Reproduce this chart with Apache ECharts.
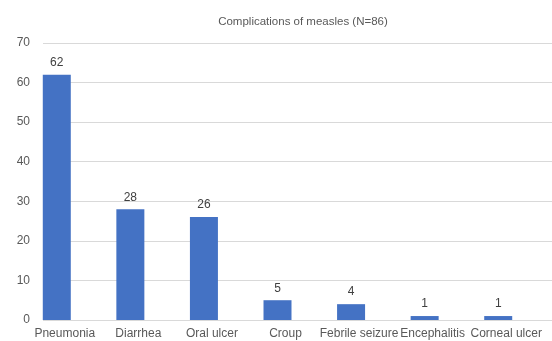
<!DOCTYPE html>
<html>
<head>
    <meta charset="utf-8" />
    <title>Complications of measles</title>
    <script src="https://cdn.jsdelivr.net/npm/echarts@6/dist/echarts.min.js"></script>
    <style>
        html, body { margin: 0; padding: 0; background: #fff; }
        #chart { width: 552px; height: 341px; }
    </style>
</head>
<body>
<div id="chart"></div>
<script>
    var categories = ['Pneumonia', 'Diarrhea', 'Oral ulcer', 'Croup', 'Febrile seizure', 'Encephalitis', 'Corneal ulcer'];
    var counts = [62, 28, 26, 5, 4, 1, 1];
    var yTicks = [0, 10, 20, 30, 40, 50, 60, 70];

    var font = "'Liberation Sans Narrow', 'Liberation Sans', Arial, sans-serif";
    var chart = echarts.init(document.getElementById('chart'));

    var option = {
        animation: false,
        title: {
            text: 'Complications of measles (N=86)',
            left: 298,
            top: 11,
            textAlign: 'center',
            textStyle: { fontFamily: font, fontSize: 11.5, fontWeight: 'normal', color: '#595959' }
        },
        grid: [
            // gridlines + y labels
            { left: 43, right: 0, top: 43, bottom: 21 },
            // bars
            { left: 20, right: 17, top: 43, bottom: 21 }
        ],
        xAxis: [
            { gridIndex: 0, type: 'value', show: false, min: 0, max: 1 },
            {
                gridIndex: 1,
                type: 'category',
                data: categories,
                axisLine: { show: false },
                axisTick: { show: false },
                axisLabel: {
                    fontFamily: font, fontSize: 12, color: '#595959',
                    margin: 8, interval: 0, padding: [0, 0, 0, 16]
                }
            }
        ],
        yAxis: [
            {
                gridIndex: 0,
                type: 'value',
                min: 0,
                max: yTicks[yTicks.length - 1],
                interval: 10,
                axisLine: { show: false },
                axisTick: { show: false },
                axisLabel: { fontFamily: font, fontSize: 12, color: '#595959', margin: 13 },
                splitLine: { lineStyle: { color: '#d9d9d9', width: 1 } }
            },
            { gridIndex: 1, type: 'value', min: 0, max: 70, show: false }
        ],
        series: [
            {
                type: 'bar',
                xAxisIndex: 1,
                yAxisIndex: 1,
                data: counts,
                barWidth: 28,
                itemStyle: { color: '#4472C4' },
                label: {
                    show: true,
                    position: 'top',
                    distance: 6,
                    fontFamily: font,
                    fontSize: 12,
                    color: '#404040'
                }
            }
        ]
    };

    chart.setOption(option);
</script>
</body>
</html>
